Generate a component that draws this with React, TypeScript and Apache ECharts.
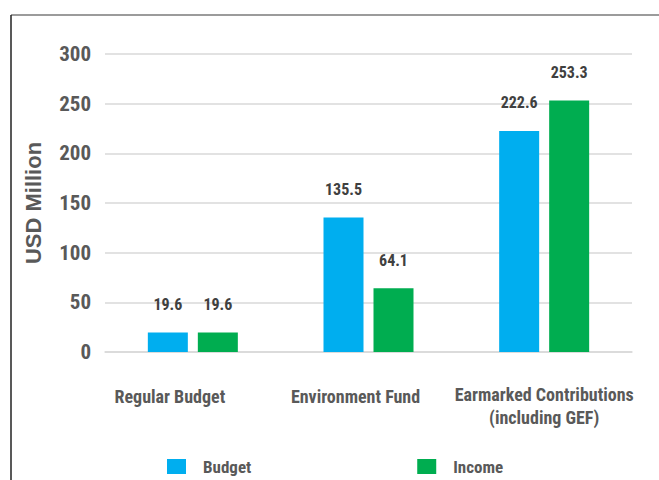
import React, { useEffect, useRef } from "react";
import * as echarts from "echarts";

const categories = ["Regular Budget", "Environment Fund", "Earmarked Contributions\n(including GEF)"];
const categoryKeys = ["a", "b", "c"];
const budgetValues = [19.6, 135.5, 222.6];
const incomeValues = [19.6, 64.1, 253.3];
const seriesNames = ["Budget", "Income"];

const FONT = "'Roboto Condensed', 'Open Sans Condensed', 'Liberation Sans Narrow', 'DejaVu Sans Condensed', sans-serif";

export default function App() {
  const ref = useRef<HTMLDivElement>(null);
  useEffect(() => {
    if (!ref.current) return;
    const chart = echarts.init(ref.current, undefined, { renderer: "svg" });
    const labelStyle = {
      fontFamily: FONT,
      fontWeight: "bold" as const,
      fontSize: 18,
      color: "#595959",
      lineHeight: 23,
    };
    const dataLabel = {
      show: true,
      position: "top" as const,
      distance: 20,
      fontFamily: FONT,
      fontWeight: "bold" as const,
      fontSize: 16,
      color: "#404040",
    };
    chart.setOption({
      animation: false,
      backgroundColor: "#ffffff",
      grid: { left: 105, right: 27, top: 54, bottom: 128 },
      graphic: [
        { type: "line", shape: { x1: 11, y1: 15, x2: 659, y2: 15 }, style: { stroke: "#7a7a7a", lineWidth: 1.5 } },
        { type: "line", shape: { x1: 11, y1: 15, x2: 11, y2: 480 }, style: { stroke: "#222222", lineWidth: 1.5 } },
      ],
      legend: {
        data: seriesNames,
        left: 162,
        top: 453,
        itemWidth: 19,
        itemHeight: 15,
        itemGap: 166,
        icon: "rect",
        textStyle: {
          fontFamily: FONT,
          fontWeight: "bold",
          fontSize: 17,
          color: "#595959",
          padding: [0, 0, 0, 12],
        },
      },
      xAxis: {
        type: "category",
        data: categories,
        axisTick: { show: false },
        axisLine: { lineStyle: { color: "#d9d9d9", width: 1.5 } },
        axisLabel: {
          interval: 0,
          margin: 31,
          verticalAlign: "top",
          formatter: (v: string, i: number) => {
            return v
              .split("\n")
              .map((line) => `{${categoryKeys[i]}|${line}}`)
              .join("\n");
          },
          rich: {
            a: { ...labelStyle, padding: [4, 46, 0, 0] },
            b: { ...labelStyle, padding: [4, 26, 0, 0] },
            c: { ...labelStyle },
          },
        },
      },
      yAxis: {
        type: "value",
        min: 0,
        max: 300,
        interval: 50,
        name: "USD Million",
        nameLocation: "middle",
        nameGap: 61,
        nameTextStyle: {
          fontFamily: "'Liberation Sans', Arial, sans-serif",
          fontWeight: "bold",
          fontSize: 22,
          color: "#595959",
        },
        axisLine: { show: false },
        axisTick: { show: false },
        axisLabel: {
          margin: 14,
          fontFamily: FONT,
          fontWeight: "bold",
          fontSize: 21,
          color: "#595959",
        },
        splitLine: { lineStyle: { color: "#d9d9d9", width: 1.5 } },
      },
      series: [
        {
          name: seriesNames[0],
          type: "bar",
          data: budgetValues,
          barWidth: 40,
          barGap: "25%",
          itemStyle: { color: "#00AEEF" },
          label: dataLabel,
        },
        {
          name: seriesNames[1],
          type: "bar",
          data: incomeValues,
          barWidth: 40,
          itemStyle: { color: "#00AD50" },
          label: dataLabel,
        },
      ],
    });
    return () => chart.dispose();
  }, []);
  return <div ref={ref} style={{ width: 659, height: 480, position: "absolute", left: 0, top: 0 }} />;
}
